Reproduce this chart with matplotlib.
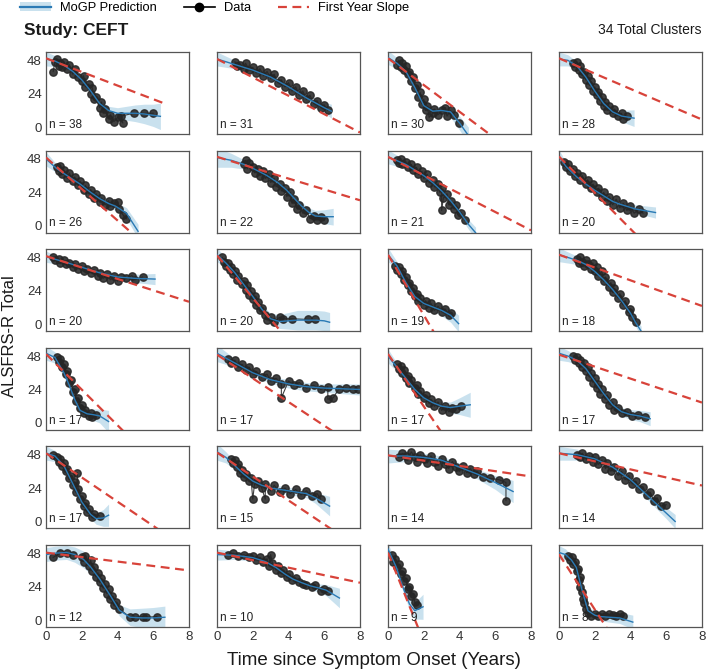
import matplotlib
matplotlib.use("Agg")
import matplotlib.pyplot as plt
from matplotlib.lines import Line2D
from matplotlib.patches import Patch

plt.rcParams['font.family'] = ['Liberation Sans', 'DejaVu Sans']

study = "CEFT"
total_clusters = 34

# cluster sizes, panel order left->right, top->bottom
n_pat = [38, 31, 30, 28, 26, 22, 21, 20, 20, 20, 19, 18,
         17, 17, 17, 17, 17, 15, 14, 14, 12, 10, 9, 8]

# MoGP mean prediction (years, score) and band half width
mean_t = [
    [0, 0.5, 1, 1.5, 2, 2.5, 3, 3.5, 4, 4.5, 5, 5.5, 6, 6.4],
    [0, 1, 2, 3, 4, 5, 6, 6.4],
    [0, 0.5, 1, 1.5, 2, 2.5, 3, 3.5, 4, 4.5],
    [0, 0.5, 1, 1.5, 2, 2.5, 3, 3.5, 4.2],
    [0, 0.6, 1.3, 1.9, 2.5, 3.0, 3.5, 3.9, 4.5, 5.15],
    [0, 0.8, 1.65, 2.2, 2.8, 3.4, 3.9, 4.3, 4.7, 5.1, 5.5, 6.0, 6.5],
    [0, 1, 2, 2.5, 3, 3.5, 4, 4.5, 4.9],
    [0, 0.4, 1.0, 1.5, 2.0, 2.5, 3.0, 3.4, 4.3, 5.4],
    [0, 1, 2, 3, 4, 5, 6.1],
    [0, 0.5, 1, 1.5, 2, 2.5, 3, 3.5, 4, 4.5, 5, 5.5, 6, 6.3],
    [0, 0.5, 1, 1.5, 2, 2.5, 3, 3.5, 3.95],
    [0, 0.5, 1, 1.5, 2, 2.5, 3, 3.5, 4, 4.3, 4.6],
    [0, 0.5, 1, 1.3, 1.6, 1.9, 2.3, 2.6, 3, 3.5],
    [0, 1, 2, 3, 4, 5, 6, 7, 8],
    [0, 0.5, 1, 1.5, 2, 2.5, 3, 3.5, 4, 4.6],
    [0, 0.5, 1, 1.5, 2, 2.5, 3, 3.5, 4, 4.5, 5.1],
    [0, 0.5, 1, 1.5, 2, 2.5, 2.8, 3.2, 3.5],
    [0, 0.5, 1, 1.5, 2, 2.5, 3, 4, 5, 5.5, 6.3],
    [0, 1, 2, 3, 4, 5, 6, 7],
    [0, 1, 2, 3, 4, 5, 6, 6.5],
    [0, 0.5, 1.15, 1.6, 2.1, 2.5, 3.0, 3.6, 4.1, 4.7, 5.4, 6.0, 6.65],
    [0, 1, 2, 2.7, 3.3, 3.8, 4.25, 4.7, 5.2, 5.7, 6.1, 6.85],
    [0, 0.47, 0.84, 1.2, 1.5, 1.96],
    [0, 0.37, 0.7, 0.97, 1.25, 1.62, 2.0, 2.27, 2.8, 3.4, 4.13],
]
mean_v = [
    [49, 47.5, 44.5, 40, 34, 26, 17, 12, 10, 10, 10, 9.5, 8.5, 7.8],
    [49, 45, 41, 36, 29, 21, 14, 11.5],
    [50, 46, 40, 28.5, 15.5, 11.5, 12, 11, 3, -6],
    [49, 48, 44, 36, 26, 17, 11, 8, 6.5],
    [48, 41, 35, 30, 24, 19.5, 16, 14, 9, -4],
    [49, 47, 43.5, 40, 36, 31, 25.5, 20, 14.5, 10, 7, 6.5, 6.5],
    [49.5, 44, 36, 31, 25, 18, 10, 1, -5],
    [49.5, 42.5, 35, 30, 25.5, 21.5, 17.5, 15.5, 12, 9.5],
    [48.5, 45, 41, 37, 34, 33, 32.5],
    [50, 44, 37, 28.5, 20, 11, 4, 2, 2.5, 3, 3, 3, 2.5, 1.5],
    [50, 42, 30, 20, 15, 12.5, 10, 6.5, 0.5],
    [50, 48, 46, 43, 38, 32, 25, 17, 8, 1, -5],
    [50, 47, 36, 27, 17, 9, 6.5, 6, 5, 1],
    [50, 43, 36, 31, 28, 26, 25, 24.5, 24],
    [48, 40, 32, 24, 18, 14.5, 12, 11, 12, 13],
    [50, 48, 45, 39, 30, 21, 13, 8, 6, 5, 3],
    [49, 47, 40, 27, 14, 5, 2, 2.5, 4.5],
    [50, 46, 40, 34, 29, 26, 24, 22, 20, 17, 11],
    [47, 47, 46, 44, 39, 34, 28, 21.5],
    [49, 48, 45, 39, 30, 18, 6, 0],
    [47, 48, 48.5, 47, 43.5, 38, 29.5, 17.5, 7, 2, 1.5, 1.5, 2],
    [47, 46.5, 44.8, 42, 37.7, 33, 29.4, 27, 24.6, 23, 21.5, 15.8],
    [51, 37.7, 23.4, 11.5, 6.7, 9.5],
    [48.5, 47, 43, 37.7, 23.4, 6.7, 3.5, 2.5, 2, 1.5, -1.5],
]
band_w = [
    [5, 4, 3, 2.5, 2.5, 2.5, 2.5, 3, 4, 5, 6, 7, 8, 9.5],
    [5, 3, 2, 2, 2, 2.5, 4, 5],
    [5, 4, 3, 3, 3, 3, 3, 4, 5, 6],
    [5, 4, 3, 2.5, 2.5, 2.5, 3, 4, 6],
    [5, 3, 2.5, 2.5, 2.5, 2.5, 3, 3, 4, 5],
    [7, 5, 3, 2.5, 2.5, 2.5, 2.5, 2.5, 3, 3, 4, 5, 6],
    [5, 3, 2.5, 2.5, 2.5, 2.5, 3, 3.5, 4],
    [5, 3, 2.5, 2.5, 2.5, 2.5, 2.5, 3, 3, 4],
    [4, 2.5, 2, 2, 2.5, 3, 4],
    [5, 3.5, 3, 3, 3, 3, 4, 5, 6, 7, 7, 7, 7, 7],
    [5, 3, 2.5, 2.5, 3, 3, 4, 5, 6],
    [5, 4, 3, 2.5, 2.5, 2.5, 2.5, 2.5, 3, 3, 3.5],
    [5, 4, 3, 3, 3, 3, 3, 4, 5, 8],
    [6, 3, 2.5, 2.5, 3, 3, 3, 3.5, 4],
    [5, 3, 3, 2.5, 2.5, 2.5, 3, 4, 6, 9],
    [5, 4, 3, 2.5, 2.5, 2.5, 3, 3, 3.5, 4, 5],
    [5, 4, 3, 3, 3, 3, 4, 6, 8],
    [6, 4, 3, 2.5, 2.5, 2.5, 2.5, 2.5, 3, 4, 7],
    [5, 4, 3, 3, 3, 3.5, 5, 8],
    [5, 4, 3, 3, 3, 3, 4, 5],
    [5, 5, 5, 5.5, 6, 5, 4, 3.5, 4, 6, 7, 7.5, 8],
    [4, 3, 2.5, 2.5, 2.5, 2.5, 2.5, 2.5, 2.5, 3, 4, 7],
    [4, 3, 3, 4, 6, 9],
    [5, 4, 3.5, 3, 3, 3, 3, 3, 3.5, 4, 5],
]

# first year slope: intercept, slope per year, last year drawn
slope_b = [49.5, 49, 49.5, 49.5, 49, 49.5, 49.5, 49.7, 49, 49.5, 50, 50,
           49.5, 49, 49.5, 49, 49, 49.5, 47.5, 49, 48.4, 48.4, 48.4, 47.2]
slope_m = [-4.9, -6.6, -9.6, -5.5, -11.3, -3.9, -6.6, -13, -4.1, -15.3, -21.7, -4.6,
           -12.8, -8.5, -18.8, -4.3, -8.7, -8.6, -1.9, -2.9, -1.6, -2.7, -32, -19.8]
slope_end = [6.7] + [8] * 23

# observed scores (years since onset, ALSFRS-R)
data_t = [
    [0.4, 0.5, 0.6, 0.7, 0.8, 0.9, 1.0, 1.2, 1.3, 1.5, 1.6, 1.8, 2.0, 2.1, 2.2, 2.4, 2.5, 2.6, 2.7, 2.8, 3.0, 3.1, 3.2, 3.3, 3.5, 3.6, 3.8, 4.0, 4.3, 4.2, 4.9, 5.5, 6.0],
    [1.0, 1.1, 1.3, 1.5, 1.6, 1.8, 2.0, 2.2, 2.4, 2.6, 2.8, 3.0, 3.2, 3.4, 3.6, 3.8, 4.0, 4.2, 4.4, 4.6, 4.8, 5.0, 5.2, 5.4, 5.6, 5.8, 6.0, 6.2],
    [0.5, 0.6, 0.7, 0.8, 0.9, 1.0, 1.1, 1.2, 1.3, 1.4, 1.5, 1.6, 1.7, 1.8, 1.9, 2.0, 2.1, 2.2, 2.3, 2.5, 2.6, 2.8, 3.0, 3.2, 3.3, 3.5, 3.7, 4.0],
    [0.8, 0.9, 1.0, 1.1, 1.2, 1.3, 1.4, 1.5, 1.6, 1.7, 1.8, 1.9, 2.0, 2.1, 2.2, 2.3, 2.4, 2.5, 2.6, 2.7, 2.8, 3.0, 3.1, 3.3, 3.5, 3.6, 3.8],
    [0.6, 0.7, 0.8, 0.9, 1.0, 1.2, 1.3, 1.5, 1.6, 1.8, 1.9, 2.1, 2.2, 2.4, 2.5, 2.7, 2.8, 3.0, 3.1, 3.3, 3.5, 3.6, 3.8, 4.0, 4.1, 4.3, 4.5],
    [1.5, 1.6, 1.7, 1.8, 2.0, 2.1, 2.3, 2.4, 2.6, 2.7, 2.9, 3.0, 3.2, 3.3, 3.5, 3.6, 3.8, 3.9, 4.1, 4.2, 4.3, 4.5, 4.6, 4.8, 5.0, 5.2, 5.4, 5.6, 5.8, 6.0],
    [0.5, 0.6, 0.7, 0.8, 1.0, 1.1, 1.3, 1.4, 1.6, 1.7, 1.9, 2.0, 2.2, 2.3, 2.5, 2.6, 2.8, 2.9, 3.0, 3.0, 3.1, 3.3, 3.4, 3.5, 3.7, 3.8, 3.9, 4.1, 4.3],
    [0.3, 0.4, 0.5, 0.6, 0.8, 0.9, 1.0, 1.2, 1.3, 1.5, 1.6, 1.8, 1.9, 2.1, 2.2, 2.4, 2.5, 2.7, 2.8, 3.0, 3.2, 3.4, 3.6, 3.8, 4.0, 4.2, 4.5, 4.7],
    [0.4, 0.5, 0.7, 0.8, 1.0, 1.1, 1.3, 1.5, 1.6, 1.8, 2.0, 2.1, 2.3, 2.5, 2.7, 2.9, 3.0, 3.2, 3.4, 3.6, 3.8, 4.0, 4.2, 4.5, 4.8, 5.0, 5.4],
    [0.3, 0.4, 0.5, 0.6, 0.7, 0.8, 0.9, 1.0, 1.1, 1.2, 1.4, 1.5, 1.6, 1.7, 1.8, 1.9, 2.0, 2.1, 2.2, 2.3, 2.4, 2.5, 2.7, 2.8, 3.0, 3.2, 3.5, 3.7, 4.2, 5.1, 5.5],
    [0.4, 0.5, 0.6, 0.7, 0.8, 0.9, 1.0, 1.1, 1.2, 1.3, 1.4, 1.5, 1.6, 1.7, 1.8, 2.0, 2.1, 2.3, 2.4, 2.6, 2.8, 3.0, 3.2, 3.4, 3.5],
    [1.0, 1.1, 1.2, 1.3, 1.4, 1.5, 1.6, 1.8, 1.9, 2.0, 2.1, 2.2, 2.4, 2.5, 2.6, 2.8, 2.9, 3.0, 3.1, 3.3, 3.4, 3.6, 3.7, 3.9, 4.0, 4.1, 4.3],
    [0.6, 0.7, 0.8, 0.9, 1.0, 1.1, 1.2, 1.3, 1.4, 1.5, 1.6, 1.7, 1.8, 1.9, 2.0, 2.1, 2.2, 2.4, 2.5, 2.6, 2.8],
    [0.6, 0.8, 1.0, 1.2, 1.4, 1.6, 1.8, 2.0, 2.2, 2.5, 2.8, 3.0, 3.3, 3.6, 3.6, 4.0, 4.3, 4.6, 5.0, 5.4, 5.8, 6.2, 6.2, 6.5, 6.8, 7.2, 7.6, 7.9],
    [0.5, 0.6, 0.7, 0.8, 0.9, 1.0, 1.1, 1.2, 1.3, 1.5, 1.6, 1.7, 1.8, 2.0, 2.1, 2.3, 2.4, 2.6, 2.8, 3.0, 3.2, 3.4, 3.6, 3.8, 4.1],
    [0.8, 0.9, 1.0, 1.1, 1.2, 1.3, 1.4, 1.5, 1.6, 1.7, 1.8, 1.9, 2.0, 2.1, 2.2, 2.3, 2.4, 2.6, 2.7, 2.8, 3.0, 3.1, 3.3, 3.5, 3.8, 4.1, 4.4, 4.8],
    [0.4, 0.6, 0.7, 0.8, 0.9, 1.0, 1.1, 1.2, 1.3, 1.4, 1.5, 1.6, 1.7, 1.75, 1.8, 1.9, 2.0, 2.1, 2.2, 2.3, 2.4, 2.6, 2.7, 3.0],
    [0.8, 0.9, 1.0, 1.1, 1.2, 1.3, 1.4, 1.5, 1.6, 1.8, 1.9, 2.0, 2.1, 2.3, 2.5, 2.7, 2.7, 3.0, 3.2, 3.5, 3.8, 4.1, 4.4, 4.7, 5.0, 5.3, 5.6, 5.8],
    [0.6, 0.8, 1.0, 1.1, 1.3, 1.5, 1.6, 1.8, 2.0, 2.2, 2.4, 2.6, 2.8, 3.0, 3.2, 3.4, 3.6, 3.8, 4.0, 4.2, 4.4, 4.6, 4.8, 5.0, 5.3, 5.7, 6.2, 6.6, 6.6],
    [1.0, 1.2, 1.3, 1.5, 1.7, 1.9, 2.0, 2.2, 2.4, 2.6, 2.7, 2.9, 3.1, 3.3, 3.5, 3.7, 3.9, 4.1, 4.3, 4.5, 4.7, 4.9, 5.1, 5.3, 5.5, 5.7, 6.0],
    [0.4, 0.8, 1.2, 1.5, 2.0, 2.1, 2.2, 2.4, 2.5, 2.6, 2.7, 2.8, 2.9, 3.0, 3.1, 3.2, 3.3, 3.4, 3.5, 3.6, 3.7, 3.8, 3.9, 4.1, 4.7, 5.0, 5.4, 5.6, 6.2],
    [0.6, 0.9, 1.2, 1.5, 1.8, 2.0, 2.2, 2.4, 2.6, 2.8, 2.9, 3.0, 3.1, 3.3, 3.4, 3.6, 3.7, 3.9, 4.0, 4.2, 4.4, 4.6, 4.8, 5.0, 5.3, 5.5, 5.8, 6.0, 6.2],
    [0.2, 0.3, 0.4, 0.5, 0.6, 0.7, 0.8, 0.9, 1.0, 1.1, 1.2, 1.3, 1.4, 1.5, 1.6],
    [0.5, 0.6, 0.7, 0.8, 0.9, 1.0, 1.05, 1.1, 1.15, 1.2, 1.3, 1.35, 1.4, 1.5, 1.6, 1.8, 2.0, 2.2, 2.4, 2.6, 2.8, 3.0, 3.2, 3.4, 3.6],
]
data_v = [
    [40, 47, 49, 44, 46, 43, 47, 42, 45, 38, 42, 36, 33, 37, 29, 31, 24, 28, 20, 22, 14, 18, 10, 13, 6, 9, 4, 7, 3, 8, 10, 10, 10],
    [47, 44, 45, 42, 46, 41, 43, 39, 42, 37, 40, 35, 38, 32, 34, 29, 32, 26, 29, 23, 26, 20, 23, 17, 19, 14, 16, 12],
    [45, 48, 43, 46, 41, 44, 38, 40, 33, 36, 28, 30, 22, 25, 17, 20, 12, 15, 7, 10, 13, 9, 12, 14, 8, 12, 9, 3],
    [46, 43, 47, 41, 44, 38, 40, 34, 37, 30, 33, 26, 29, 23, 25, 19, 22, 15, 18, 12, 15, 10, 13, 8, 10, 6, 8],
    [42, 39, 43, 37, 40, 34, 38, 32, 35, 29, 32, 26, 29, 23, 26, 20, 23, 17, 20, 15, 18, 14, 16, 17, 12, 8, 5],
    [44, 47, 41, 45, 42, 38, 41, 36, 39, 34, 37, 31, 34, 28, 30, 25, 27, 21, 24, 16, 19, 12, 15, 9, 11, 5, 7, 4, 6, 4],
    [47, 45, 48, 44, 46, 42, 44, 40, 42, 37, 39, 34, 37, 31, 33, 28, 30, 24, 27, 11, 20, 23, 15, 18, 12, 15, 8, 9, 4],
    [46, 42, 44, 39, 41, 36, 38, 33, 36, 30, 33, 27, 30, 24, 27, 21, 24, 18, 21, 15, 19, 13, 16, 11, 14, 9, 12, 9],
    [48, 46, 47, 44, 46, 43, 44, 41, 43, 40, 42, 38, 40, 37, 39, 35, 37, 33, 36, 32, 35, 31, 34, 33, 35, 32, 34],
    [48, 45, 42, 44, 39, 41, 36, 38, 32, 35, 29, 31, 25, 28, 21, 24, 18, 20, 14, 16, 10, 12, 7, 3, 5, 2, 5, 4, 4, 3.5, 3.5],
    [42, 39, 41, 36, 38, 32, 34, 28, 30, 24, 26, 20, 22, 17, 19, 14, 17, 12, 15, 10, 13, 9, 11, 7, 8],
    [47, 44, 48, 45, 42, 46, 43, 40, 44, 38, 41, 35, 38, 31, 34, 27, 30, 23, 26, 19, 22, 14, 17, 9, 11, 5, 2],
    [47, 44, 46, 40, 42, 35, 37, 29, 31, 22, 24, 16, 18, 11, 13, 7, 9, 5, 7, 4, 6],
    [46, 43, 45, 40, 42, 38, 40, 35, 37, 33, 35, 30, 32, 28, 18, 30, 27, 29, 25, 27, 24, 26, 17, 18, 24, 25, 24, 24],
    [42, 39, 41, 36, 38, 32, 34, 29, 31, 25, 27, 21, 23, 18, 20, 14, 17, 12, 15, 9, 12, 8, 11, 10, 12],
    [48, 45, 47, 43, 45, 40, 43, 37, 40, 33, 36, 29, 32, 25, 28, 21, 24, 17, 20, 13, 15, 9, 11, 7, 8, 5, 6, 4],
    [48, 46, 43, 45, 40, 42, 36, 38, 31, 33, 26, 28, 21, 35, 23, 16, 18, 11, 13, 7, 9, 3, 5, 4],
    [45, 42, 44, 39, 41, 35, 37, 32, 34, 29, 31, 16, 27, 29, 24, 16, 27, 22, 26, 21, 24, 20, 23, 19, 22, 18, 20, 16],
    [46, 49, 47, 44, 50, 46, 43, 48, 45, 42, 47, 43, 40, 45, 41, 38, 43, 39, 36, 40, 35, 38, 34, 36, 32, 31, 30, 28, 15],
    [48, 46, 49, 45, 47, 43, 46, 41, 44, 38, 42, 36, 39, 33, 36, 30, 33, 27, 29, 23, 25, 19, 21, 15, 17, 11, 12],
    [45, 48, 48, 47, 45, 42, 46, 39, 43, 35, 38, 31, 34, 27, 30, 23, 26, 19, 22, 15, 17, 11, 13, 8, 2, 2, 2.5, 2, 2.5],
    [47, 48, 46, 47, 45, 46, 43, 45, 42, 44, 39, 47, 41, 36, 39, 34, 36, 31, 33, 29, 30, 27, 26, 25, 24, 25, 21, 22, 21],
    [47, 42, 44, 38, 40, 33, 35, 28, 30, 22, 24, 17, 19, 13, 11],
    [46, 43, 45, 40, 42, 35, 37, 29, 31, 24, 20, 15, 12, 8, 5, 3, 4, 3, 4, 3, 4, 3.5, 3, 4, 3],
]

blue = "#2a7ab5"
band_col = "#9ecae1"
red = "#d8433a"
dark = "#262626"

fig, axes = plt.subplots(6, 4, figsize=(7.06, 6.72), dpi=100, sharex=True, sharey=True)
fig.subplots_adjust(left=0.0652, right=0.9943, top=0.9226, bottom=0.067,
                    wspace=0.196, hspace=0.2)

for i, ax in enumerate(axes.flat):
    mt = mean_t[i]
    mv = mean_v[i]
    lo = [v - w for v, w in zip(mv, band_w[i])]
    hi = [v + w for v, w in zip(mv, band_w[i])]
    ax.fill_between(mt, lo, hi, color=band_col, alpha=0.55, lw=0, zorder=1)
    ax.plot(data_t[i], data_v[i], '-o', color=dark, ms=5.3, lw=0.8,
            alpha=0.88, zorder=2)
    ax.plot(mt, mv, color=blue, lw=1.0, zorder=3)
    xe = slope_end[i]
    ax.plot([0, xe], [slope_b[i], slope_b[i] + slope_m[i] * xe], color=red,
            lw=1.6, ls=(0, (4, 2.5)), zorder=4)
    ax.text(0.02, 0.04, "n = %d" % n_pat[i], transform=ax.transAxes,
            fontsize=8.5, color="#222222", ha="left", va="bottom", zorder=5)
    ax.set_xlim(0, 8)
    ax.set_ylim(-5, 54)
    ax.set_xticks([0, 2, 4, 6, 8])
    ax.set_yticks([0, 24, 48])
    ax.tick_params(length=0, labelsize=9.5, labelcolor="#333333", pad=3)
    for sp in ax.spines.values():
        sp.set_color("#555555")
        sp.set_linewidth(0.9)

fig.text(0.034, 0.955, "Study: %s" % study, fontsize=12.5, fontweight="bold",
         ha="left", va="center", color="#1a1a1a")
fig.text(0.993, 0.955, "%d Total Clusters" % total_clusters, fontsize=10,
         ha="right", va="center", color="#1a1a1a")
fig.text(0.014, 0.5, "ALSFRS-R Total", rotation=90, fontsize=12,
         ha="center", va="center", color="#1a1a1a")
fig.text(0.53, 0.017, "Time since Symptom Onset (Years)", fontsize=13.5,
         ha="center", va="center", color="#1a1a1a")

handles = [
    (Patch(color=band_col, alpha=0.55, lw=0), Line2D([], [], color=blue, lw=1.6)),
    Line2D([], [], color="black", marker="o", ms=6, lw=1.2),
    Line2D([], [], color=red, lw=1.6, ls=(0, (4, 2.5))),
]
labels = ["MoGP Prediction", "Data", "First Year Slope"]
fig.legend(handles, labels, loc="center left", bbox_to_anchor=(0.028, 0.988),
           ncol=3, frameon=False, fontsize=9.3, columnspacing=2.1,
           handlelength=2.4, handletextpad=0.7, borderpad=0, borderaxespad=0)

fig.savefig("out.png", dpi=100)
